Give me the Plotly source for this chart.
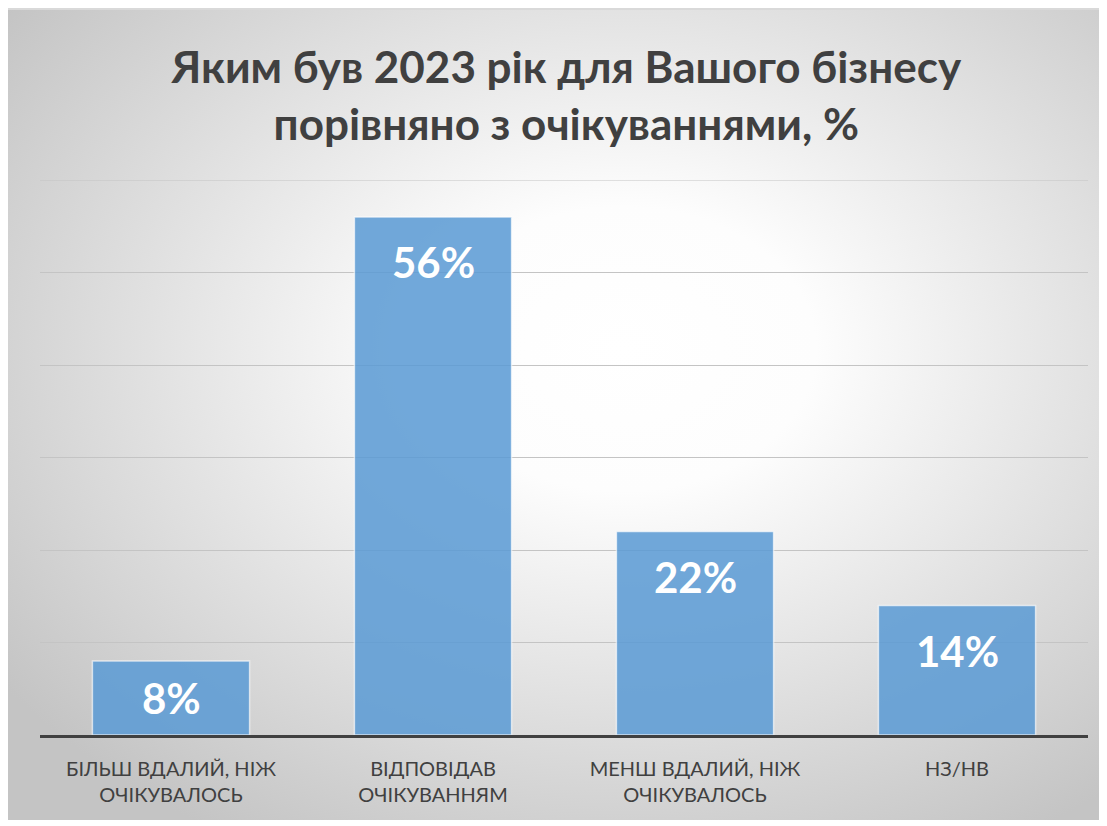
import plotly.graph_objects as go
import base64

categories = ["БІЛЬШ ВДАЛИЙ, НІЖ<br>ОЧІКУВАЛОСЬ", "ВІДПОВІДАВ<br>ОЧІКУВАННЯМ",
              "МЕНШ ВДАЛИЙ, НІЖ<br>ОЧІКУВАЛОСЬ", "НЗ/НВ"]
values = [8, 56, 22, 14]
labels = ["8%", "56%", "22%", "14%"]

W, H = 1099, 812
L, R, T, B = 32, 19, 172, 85
pw, ph = W - L - R, H - T - B

# radial gradient background like the office chart
svg = f"""<svg xmlns='http://www.w3.org/2000/svg' width='{W}' height='{H}' viewBox='0 0 {W} {H}' preserveAspectRatio='none'>
<defs><radialGradient id='g' cx='56%' cy='42%' r='70%'>
<stop offset='0' stop-color='#ffffff'/><stop offset='0.25' stop-color='#fdfdfd'/>
<stop offset='1' stop-color='#c4c4c4'/></radialGradient></defs>
<rect width='{W}' height='{H}' fill='url(#g)'/></svg>"""
bg = "data:image/svg+xml;base64," + base64.b64encode(svg.encode()).decode()

fig = go.Figure()
fig.add_trace(go.Bar(
    x=categories, y=values,
    marker=dict(color="#5B9BD5", opacity=0.86,
                line=dict(color="rgba(255,255,255,0.7)", width=1.5)),
    hoverinfo="skip",
))

for c, v, t in zip(categories, values, labels):
    fig.add_annotation(x=c, y=max(v - 4.9, v / 2), text="<b>" + t + "</b>", showarrow=False,
                       font=dict(family="Lato", size=42, color="white"), yanchor="middle")

fig.update_layout(
    width=W, height=H,
    margin=dict(l=L, r=R, t=T, b=B),
    paper_bgcolor="rgba(0,0,0,0)", plot_bgcolor="rgba(0,0,0,0)",
    bargap=0.4, showlegend=False,
    title=dict(text="<b>Яким був 2023 рік для Вашого бізнесу<br>порівняно з очікуваннями, %</b>",
               x=0.508, xanchor="center", y=1 - 74.5 / H, yanchor="middle",
               font=dict(family="Lato", size=44, color="#404040")),
    images=[dict(source=bg, xref="paper", yref="paper", x=-L / pw, y=1 + T / ph,
                 sizex=W / pw, sizey=H / ph, sizing="stretch", layer="below",
                 xanchor="left", yanchor="top")],
    shapes=[dict(type="line", xref="paper", yref="paper", x0=-L / pw, x1=(W - L) / pw,
                 y0=1 + T / ph - 0.002, y1=1 + T / ph - 0.002,
                 line=dict(color="#d9d9d9", width=2), layer="below"),
            # top gridline at the edge of the range
            dict(type="line", xref="paper", yref="y", x0=0, x1=1, y0=60, y1=60,
                 line=dict(color="#c4c4c4", width=1), layer="below")],
)
fig.update_yaxes(range=[0, 60], dtick=10, showgrid=True, gridcolor="#c4c4c4", gridwidth=1,
                 showticklabels=False, zeroline=False, fixedrange=True)
fig.update_xaxes(showline=True, linecolor="#404040", linewidth=3, ticks="",
                 ticklabelstandoff=14,
                 tickfont=dict(family="Lato", size=20, color="#404040"))

fig.write_html("out.html")
